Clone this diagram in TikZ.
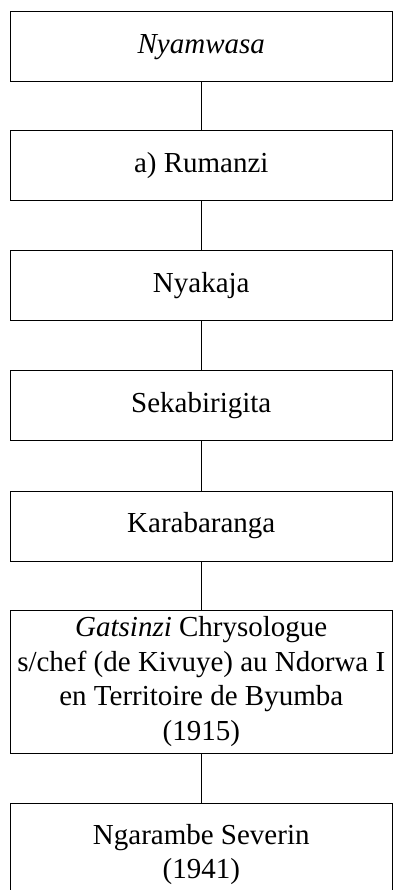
\documentclass[tikz,border=0pt]{standalone}
\usepackage{fontspec}
\setmainfont{Liberation Serif}
\begin{document}
\begin{tikzpicture}[x=1pt,y=-1pt,
  line width=1pt,
  person/.style={draw=black, fill=white, minimum width=381.5pt, minimum height=70pt,
    inner xsep=0pt, inner ysep=0pt, align=center,
    font=\fontsize{29}{34.5}\selectfont},
  link/.style={draw=black, line width=1pt}]
  \useasboundingbox (0,0) rectangle (393,890);
  \node[person] (b1) at (201.25,47) {\textit{Nyamwasa}};
  \node[person] (b2) at (201.25,166) {a) Rumanzi};
  \node[person] (b3) at (201.25,285.7) {Nyakaja};
  \node[person] (b4) at (201.25,405.7) {Sekabirigita};
  \node[person] (b5) at (201.25,526) {Karabaranga};
  \node[person, minimum height=143.3pt] (b6) at (201.25,681.7)
    {\textit{Gatsinzi} Chrysologue\\s/chef (de Kivuye) au Ndorwa I\\en Territoire de Byumba\\(1915)};
  \node[person, minimum height=102pt] (b7) at (201.25,854.3) {Ngarambe Severin\\(1941)};
  \draw[link] (b1.south) -- (b2.north);
  \draw[link] (b2.south) -- (b3.north);
  \draw[link] (b3.south) -- (b4.north);
  \draw[link] (b4.south) -- (b5.north);
  \draw[link] (b5.south) -- (b6.north);
  \draw[link] (b6.south) -- (b7.north);
\end{tikzpicture}
\end{document}
